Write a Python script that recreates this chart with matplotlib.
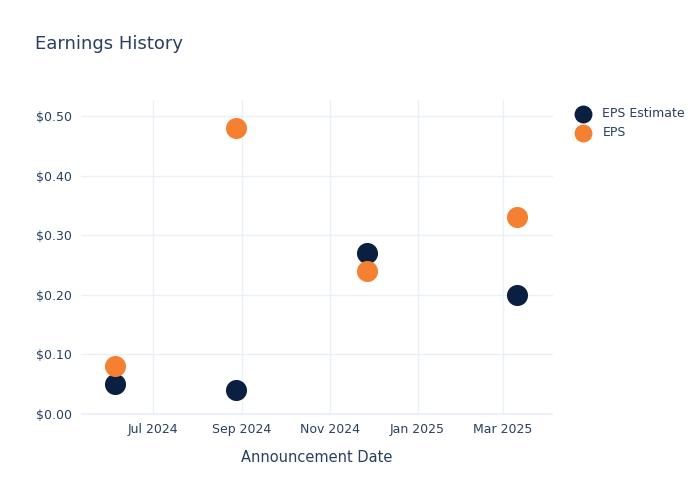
import matplotlib
matplotlib.use("Agg")
import matplotlib.pyplot as plt
import matplotlib.dates as mdates
import pandas as pd

dates = pd.to_datetime(["2024-06-05", "2024-08-28", "2024-11-27", "2025-03-11"])
eps_estimate = [0.05, 0.04, 0.27, 0.20]
eps_actual = [0.08, 0.48, 0.24, 0.33]

text_color = "#2a3f5f"
grid_color = "#ebf0f8"

fig = plt.figure(figsize=(7, 5), dpi=100)
ax = fig.add_axes([0.115, 0.17, 0.675, 0.63])

ax.scatter(dates, eps_estimate, s=230, color="#0b1f40", label="EPS Estimate", zorder=3, linewidths=0)
ax.scatter(dates, eps_actual, s=230, color="#f58032", label="EPS", zorder=3, linewidths=0)

ax.set_xlim(pd.Timestamp("2024-05-12"), pd.Timestamp("2025-04-05"))
ax.set_ylim(-0.002, 0.527)

ax.xaxis.set_major_locator(mdates.MonthLocator(bymonth=[1, 3, 5, 7, 9, 11]))
ax.xaxis.set_major_formatter(mdates.DateFormatter("%b %Y"))
ax.set_yticks([0, 0.1, 0.2, 0.3, 0.4, 0.5])
ax.set_yticklabels(["$%.2f" % v for v in [0, 0.1, 0.2, 0.3, 0.4, 0.5]])

ax.grid(True, color=grid_color, linewidth=1)
ax.axhline(0, color=grid_color, linewidth=2, zorder=1)
ax.set_axisbelow(True)
for s in ax.spines.values():
    s.set_visible(False)
ax.tick_params(length=0, colors=text_color, labelsize=9, pad=6)

ax.set_xlabel("Announcement Date", color=text_color, fontsize=10.5, labelpad=10)
fig.text(0.05, 0.912, "Earnings History", color=text_color, fontsize=13, va="center")

leg = ax.legend(loc="upper left", bbox_to_anchor=(1.013, 1.012), frameon=False,
                fontsize=9, handletextpad=0.55, labelspacing=0.45, markerscale=0.85)
for t in leg.get_texts():
    t.set_color(text_color)

fig.savefig("out.png", dpi=100)
